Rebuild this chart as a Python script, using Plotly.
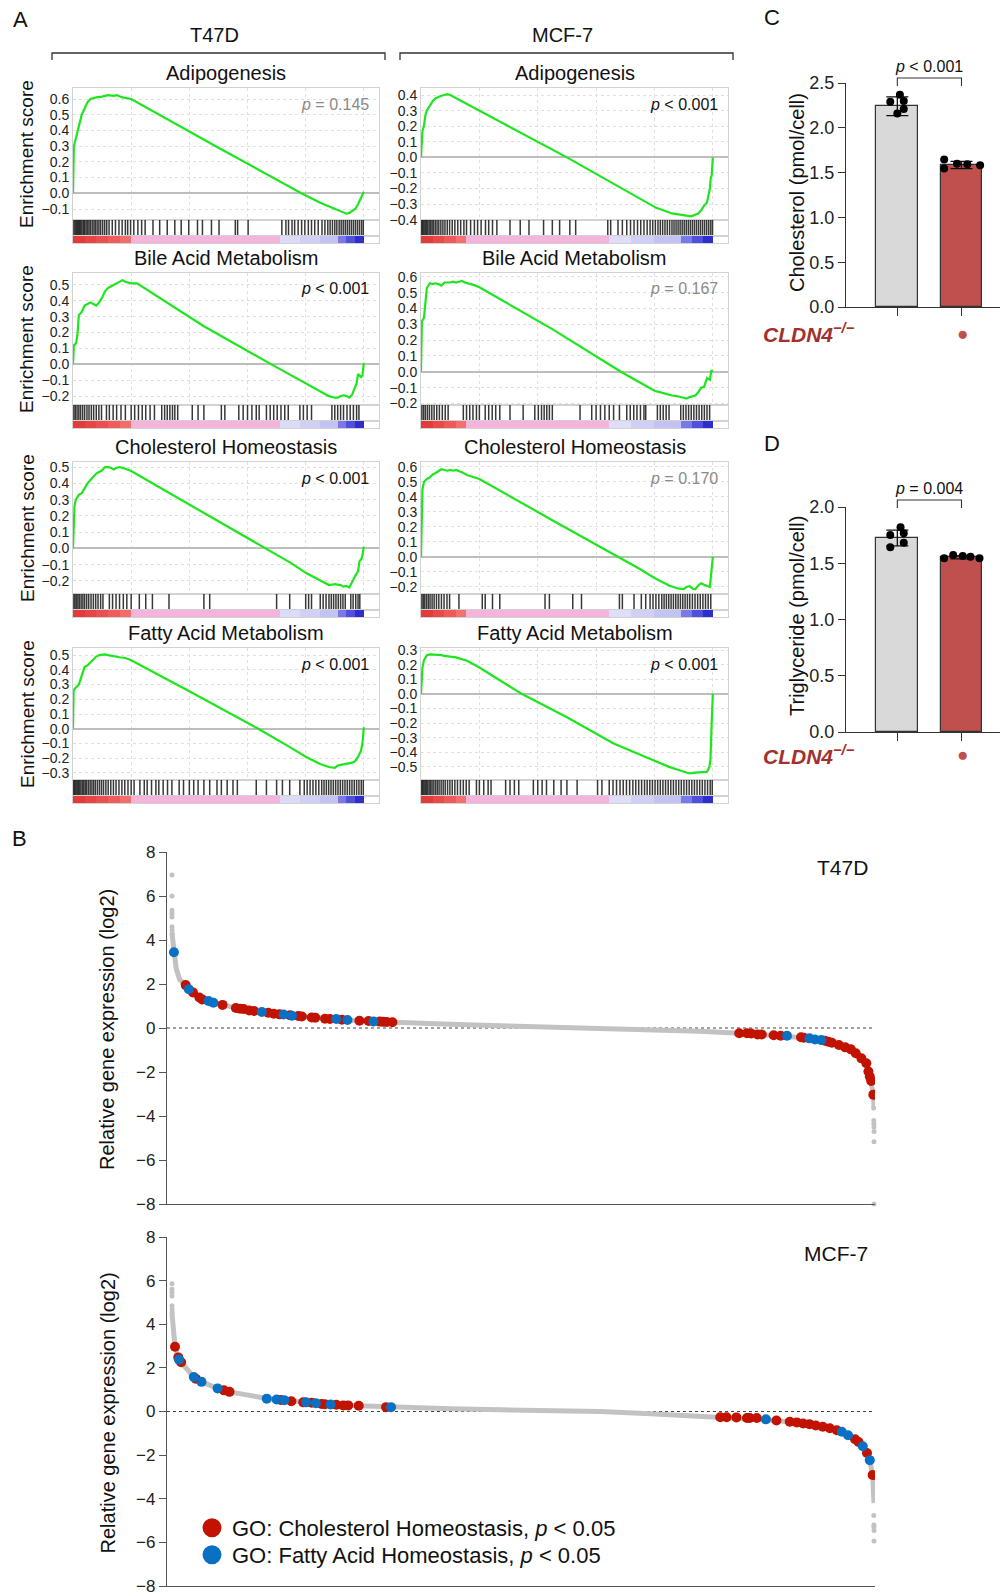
import plotly.graph_objects as go

W, H = 1002, 1596
FONT = "Liberation Sans, Arial, Helvetica, sans-serif"

# ====================== Panel A : GSEA data ======================
set_names = ["Adipogenesis", "Bile Acid Metabolism", "Cholesterol Homeostasis", "Fatty Acid Metabolism"]
cell_lines = ["T47D", "MCF-7"]
pvals_T47D = ["<i>p</i> = 0.145", "<i>p</i> &lt; 0.001", "<i>p</i> &lt; 0.001", "<i>p</i> &lt; 0.001"]
pvals_MCF7 = ["<i>p</i> &lt; 0.001", "<i>p</i> = 0.167", "<i>p</i> = 0.170", "<i>p</i> &lt; 0.001"]
sig_T47D = [False, True, True, True]
sig_MCF7 = [True, False, False, True]

# running enrichment score: x = position in ranked list (%), y = ES
T47D_adipo_x = [0, 0.3, 1, 2, 3, 4, 5, 6, 8, 10, 12, 14, 15, 17, 20, 50, 78.5, 85, 90, 93, 94, 95, 96, 97, 98, 99, 100]
T47D_adipo_y = [0, 0.30, 0.35, 0.42, 0.50, 0.54, 0.58, 0.60, 0.61, 0.615, 0.625, 0.62, 0.625, 0.61, 0.60, 0.29, 0.0,
                -0.06, -0.10, -0.125, -0.13, -0.125, -0.11, -0.10, -0.07, -0.03, 0.01]
T47D_bile_x = [0, 0.3, 1, 1.5, 2, 3, 4, 5, 6, 7, 8, 9, 10, 11, 12, 13, 14, 15, 16, 17, 18, 19, 20, 22, 45, 68.2, 75,
               80, 85, 88, 90, 91, 92, 93, 94, 95, 96, 97, 97.5, 98, 99, 99.5, 100]
T47D_bile_y = [0, 0.12, 0.13, 0.18, 0.31, 0.33, 0.37, 0.38, 0.39, 0.38, 0.37, 0.39, 0.42, 0.46, 0.48, 0.49, 0.50, 0.51,
               0.525, 0.53, 0.52, 0.515, 0.51, 0.51, 0.24, 0.0, -0.07, -0.12, -0.17, -0.20, -0.21, -0.21, -0.20, -0.195,
               -0.20, -0.21, -0.19, -0.15, -0.12, -0.06, -0.08, -0.07, 0.01]
T47D_chol_x = [0, 0.2, 0.5, 1, 2, 3, 4, 5, 6, 7, 8, 9, 10, 11, 12, 13, 14, 15, 16, 17, 18, 20, 45, 66.5, 75, 80, 85,
               88, 90, 92, 93, 94, 95, 96, 97, 98, 98.5, 99.3, 100]
T47D_chol_y = [0, 0.19, 0.26, 0.30, 0.33, 0.34, 0.37, 0.40, 0.42, 0.44, 0.46, 0.47, 0.48, 0.50, 0.50, 0.495, 0.485,
               0.495, 0.50, 0.495, 0.49, 0.475, 0.22, 0.0, -0.09, -0.15, -0.20, -0.225, -0.22, -0.225, -0.235, -0.23,
               -0.24, -0.20, -0.17, -0.14, -0.08, -0.06, 0.01]
T47D_fatty_x = [0, 0.2, 0.5, 1, 2, 3, 4, 5, 6, 7, 8, 9, 10, 11, 12, 13, 14, 15, 16, 18, 20, 40, 63.7, 75, 80, 85, 88,
                90, 91, 92, 94, 96, 97, 98, 99, 99.5, 100]
T47D_fatty_y = [0, 0.25, 0.27, 0.28, 0.30, 0.36, 0.42, 0.43, 0.45, 0.47, 0.49, 0.50, 0.505, 0.505, 0.50, 0.495, 0.49,
                0.49, 0.485, 0.48, 0.465, 0.255, 0.0, -0.13, -0.19, -0.24, -0.26, -0.265, -0.25, -0.245, -0.24, -0.23,
                -0.22, -0.19, -0.15, -0.10, 0.01]
MCF7_adipo_x = [0, 0.2, 0.5, 1, 1.5, 2, 3, 4, 5, 6, 7, 8, 9, 10, 50, 80.6, 86, 92.6, 94, 95, 96, 97, 98, 98.5, 99,
                99.3, 99.6, 100]
MCF7_adipo_y = [0, 0.10, 0.17, 0.20, 0.27, 0.30, 0.33, 0.36, 0.38, 0.39, 0.395, 0.40, 0.405, 0.40, 0.0, -0.324, -0.36,
                -0.378, -0.37, -0.36, -0.34, -0.31, -0.29, -0.25, -0.20, -0.13, -0.12, 0.0]
MCF7_bile_x = [0, 0.3, 1, 1.5, 2, 3, 4, 5, 6, 7, 8, 9, 10, 11, 12, 13, 14, 15, 16, 18, 20, 45, 68.5, 75, 80, 84, 86,
               88, 89, 90, 91, 92, 93, 94, 95, 96, 97, 97.5, 98, 99, 99.5, 100]
MCF7_bile_y = [0, 0.32, 0.34, 0.45, 0.53, 0.56, 0.555, 0.56, 0.555, 0.545, 0.565, 0.565, 0.565, 0.57, 0.565, 0.57,
               0.575, 0.565, 0.56, 0.55, 0.535, 0.27, 0.0, -0.07, -0.12, -0.14, -0.15, -0.155, -0.16, -0.165, -0.17,
               -0.16, -0.155, -0.15, -0.13, -0.10, -0.095, -0.06, -0.04, -0.05, 0.01, 0.0]
MCF7_chol_x = [0, 0.2, 0.5, 1, 2, 3, 4, 5, 6, 7, 8, 9, 10, 11, 12, 13, 14, 16, 20, 45, 67.7, 75, 80, 85, 88, 90, 91,
               92, 93, 94, 95, 96, 97, 98, 99, 99.5, 100]
MCF7_chol_y = [0, 0.30, 0.45, 0.50, 0.52, 0.53, 0.55, 0.56, 0.57, 0.585, 0.58, 0.575, 0.58, 0.575, 0.58, 0.575, 0.565,
               0.545, 0.52, 0.245, 0.0, -0.08, -0.14, -0.19, -0.21, -0.215, -0.20, -0.195, -0.21, -0.215, -0.19,
               -0.175, -0.185, -0.19, -0.20, -0.10, 0.0]
MCF7_fatty_x = [0, 0.2, 0.5, 1, 1.5, 2, 3, 4, 5, 6, 7, 8, 10, 12, 16, 20, 34.5, 50, 66, 80, 85, 88, 90, 91, 92, 94, 96,
                97, 98, 98.8, 99.2, 99.6, 100]
MCF7_fatty_y = [0, 0.10, 0.18, 0.23, 0.25, 0.265, 0.27, 0.27, 0.265, 0.27, 0.265, 0.26, 0.255, 0.25, 0.225, 0.18, 0.0,
                -0.16, -0.34, -0.46, -0.50, -0.52, -0.535, -0.54, -0.545, -0.54, -0.54, -0.54, -0.535, -0.50, -0.45,
                -0.20, 0.0]

# gene-set hit positions in the ranked list (%)
T47D_adipo_hits = [0.3, 0.7, 1.1, 1.5, 1.9, 2.3, 2.7, 3.1, 3.6, 4.0, 4.5, 5.0, 5.5, 6.0, 6.6, 7.2, 7.7, 8.3, 8.9, 9.5,
                   10.2, 10.9, 11.6, 12.4, 13.5, 14.6, 15.8, 16.9, 18.0, 18.8, 19.8, 20.9, 22.3, 23.6, 24.8, 27.5,
                   29.8, 32.4, 35.0, 37.2, 39.8, 42.8, 44.5, 47.6, 50.2, 55.8, 56.6, 60.2, 71.8, 73.2, 74.1, 75.3,
                   76.2, 77.4, 78.6, 79.7, 80.9, 82.0, 83.1, 84.3, 85.6, 86.6, 87.6, 88.4, 89.2, 90.0, 90.7, 91.5,
                   92.2, 92.9, 93.6, 94.3, 95.0, 95.7, 96.4, 97.1, 97.8, 98.5, 99.2, 99.8]
T47D_bile_hits = [0.3, 0.8, 1.4, 2.0, 2.6, 3.3, 4.0, 4.8, 5.5, 6.3, 7.1, 8.0, 8.9, 9.8, 11.5, 12.5, 13.8, 15.0, 16.5,
                  18.0, 20.0, 21.2, 22.5, 23.8, 25.0, 26.5, 28.0, 30.5, 31.5, 32.4, 33.3, 34.2, 35.0, 36.0, 41.0,
                  43.0, 45.0, 51.0, 52.2, 57.0, 58.5, 60.0, 61.5, 63.0, 64.0, 66.5, 67.8, 69.0, 70.2, 71.5, 72.8,
                  74.0, 78.0, 79.2, 80.5, 82.0, 89.0, 90.0, 91.0, 92.0, 93.0, 94.2, 95.3, 96.4, 97.5, 98.3]
T47D_chol_hits = [0.3, 0.7, 1.2, 1.7, 2.2, 2.8, 3.4, 4.0, 4.7, 5.4, 6.2, 7.0, 7.8, 8.6, 9.5, 10.3, 12.5, 13.6, 14.8,
                  16.0, 17.3, 18.5, 20.0, 22.8, 25.0, 27.3, 33.0, 45.0, 47.0, 70.0, 74.5, 80.0, 81.0, 82.0, 85.0,
                  86.0, 87.0, 88.0, 88.8, 89.6, 90.4, 91.2, 92.0, 92.8, 93.6, 95.5, 96.3, 97.2, 98.0, 98.6]
T47D_fatty_hits = [0.2, 0.6, 1.0, 1.4, 1.8, 2.2, 2.7, 3.2, 3.7, 4.2, 4.7, 5.3, 5.9, 6.5, 7.1, 7.7, 8.4, 9.1, 9.8, 10.5,
                   11.3, 12.1, 13.0, 13.9, 14.8, 15.8, 16.8, 17.8, 18.9, 20.0, 21.0, 23.0, 24.5, 25.5, 27.0, 28.5,
                   29.5, 31.0, 32.5, 34.0, 36.5, 38.0, 40.0, 41.5, 43.0, 45.0, 47.0, 49.5, 51.0, 53.0, 55.0, 56.5,
                   63.0, 66.5, 70.0, 72.0, 74.5, 78.0, 79.5, 80.5, 81.5, 82.5, 83.5, 84.5, 85.5, 86.3, 87.1, 87.9,
                   88.7, 89.5, 90.3, 91.1, 91.9, 92.7, 93.5, 94.3, 95.1, 95.9, 96.7, 97.5, 98.3, 99.1, 99.8]
MCF7_adipo_hits = [0.2, 0.6, 1.0, 1.4, 1.8, 2.3, 2.8, 3.3, 3.8, 4.3, 4.9, 5.5, 6.1, 6.8, 7.5, 8.2, 9.0, 9.8, 10.7,
                   11.6, 12.6, 13.6, 14.7, 15.6, 17.0, 18.3, 19.4, 20.6, 22.1, 23.2, 24.5, 26.0, 30.5, 34.0, 37.0,
                   42.0, 45.0, 47.5, 51.0, 53.0, 64.0, 65.0, 67.5, 69.0, 70.5, 71.8, 73.0, 74.2, 75.3, 76.4, 77.5,
                   78.5, 79.4, 80.3, 81.2, 82.0, 82.8, 83.6, 84.4, 85.2, 86.0, 86.7, 87.4, 88.1, 88.8, 89.5, 90.2,
                   90.9, 91.6, 92.3, 93.0, 93.7, 94.4, 95.1, 95.8, 96.5, 97.2, 97.9, 98.6, 99.3, 99.9]
MCF7_bile_hits = [0.3, 0.9, 1.5, 2.2, 2.9, 3.7, 4.5, 5.4, 6.3, 7.3, 8.3, 9.3, 14.5, 15.6, 16.7, 17.8, 19.0, 20.0,
                  22.0, 23.2, 24.4, 25.6, 27.0, 30.5, 35.0, 39.0, 40.2, 41.3, 42.2, 43.1, 44.0, 45.0, 54.5, 58.5,
                  60.0, 61.5, 63.0, 64.5, 66.0, 68.0, 70.5, 71.7, 72.9, 74.0, 75.2, 76.4, 77.0, 81.0, 82.0, 83.0,
                  84.0, 85.0, 89.0, 89.9, 90.8, 91.7, 92.6, 93.5, 94.4, 95.3, 96.2, 97.1, 98.0, 98.9]
MCF7_chol_hits = [0.3, 0.8, 1.3, 1.9, 2.5, 3.1, 3.8, 4.5, 5.3, 6.1, 7.0, 7.9, 8.9, 9.8, 13.0, 21.0, 22.0, 24.5, 27.0,
                  42.5, 44.0, 52.0, 55.0, 68.0, 69.0, 73.0, 75.5, 77.0, 78.5, 79.5, 80.5, 81.5, 82.5, 83.3, 84.1,
                  84.9, 85.7, 86.5, 87.3, 88.1, 88.9, 89.7, 90.5, 91.3, 92.1, 93.0, 93.9, 94.8, 95.7, 96.6, 97.5,
                  98.4, 99.3]
MCF7_fatty_hits = [0.2, 0.6, 1.0, 1.4, 1.8, 2.3, 2.8, 3.3, 3.8, 4.4, 5.0, 5.6, 6.2, 6.9, 7.6, 8.3, 9.1, 9.9, 10.7,
                   11.6, 12.5, 13.5, 14.5, 15.5, 16.5, 19.0, 20.0, 21.5, 23.0, 24.0, 29.0, 30.5, 32.0, 33.5, 38.5,
                   40.0, 41.5, 43.0, 45.5, 48.0, 50.0, 53.5, 60.5, 62.0, 64.5, 65.8, 67.0, 68.2, 69.3, 70.4, 71.5,
                   72.6, 73.6, 74.6, 75.6, 76.6, 77.5, 78.4, 79.3, 80.2, 81.1, 82.0, 82.9, 83.8, 84.7, 85.6, 86.5,
                   87.4, 88.3, 89.2, 90.1, 91.0, 91.9, 92.8, 93.7, 94.6, 95.5, 96.4, 97.3, 98.2, 99.1, 99.8]

# ranked-metric colour strip (segment edges in % and colours)
T47D_strip_edges = [0, 4, 8, 12, 16, 20, 71, 78, 85, 91, 94, 97, 100]
T47D_strip_colors = ["#e23b3b", "#e64545", "#ea5050", "#ee5c5c", "#f26c6c", "#f6b4dc", "#dcdcf9", "#d0d0f6",
                     "#c2c2f3", "#7a7ae6", "#5050dc", "#2e2ecc"]
MCF7_strip_edges = [0, 4, 8, 12, 15.5, 64.5, 72, 80, 89, 93, 96.5, 100]
MCF7_strip_colors = ["#e23b3b", "#e84a4a", "#ee5a5a", "#f27070", "#f6b4dc", "#dedefa", "#d0d0f6", "#c2c2f3",
                     "#7a7ae6", "#5050dc", "#2e2ecc"]

# ====================== Panel B data (rank %, log2 expression) ======================
T47D_curve_x = [0.0, 0.14, 0.28, 0.6, 1.1, 1.95, 3.0, 4.3, 5.9, 7.2, 9.4, 11.7, 14.5, 18.0, 21.8, 25.0, 28.7, 31.4,
                39.6, 46.7, 53.8, 61.0, 68.1, 75.2, 80.8, 84.0, 87.6, 90.0, 92.5, 94.0, 95.9, 97.4, 98.9, 99.4,
                99.9, 100.0]
T47D_curve_y = [4.3, 3.8, 3.4, 2.7, 2.2, 1.95, 1.62, 1.32, 1.15, 1.05, 0.9, 0.77, 0.65, 0.54, 0.43, 0.36, 0.30, 0.26,
                0.17, 0.10, 0.05, 0.0, -0.08, -0.15, -0.24, -0.29, -0.35, -0.44, -0.55, -0.67, -0.88, -1.15, -1.6,
                -2.2, -3.0, -3.6]
T47D_tail_x = [0, 0, 0, 0, 0, 0, 0.02, 0.04, 99.95, 99.97, 99.98, 99.99, 100, 100, 100]
T47D_tail_y = [6.95, 6.0, 5.35, 5.2, 5.05, 4.6, 4.45, 4.3, -3.64, -4.2, -4.35, -4.5, -4.7, -5.17, -8.0]
T47D_chol_gx = [1.95, 3.0, 3.9, 4.3, 7.2, 9.1, 9.7, 10.2, 11.0, 11.7, 13.7, 14.5, 15.3, 16.8, 18.0, 18.5, 19.9,
                20.4, 21.8, 22.5, 24.2, 26.7, 28.0, 29.6, 30.1, 30.6, 31.4, 80.8, 81.9, 82.5, 83.4, 84.0, 85.7,
                86.7, 89.6, 90.0, 93.0, 93.5, 94.0, 95.0, 95.9, 96.7, 97.4, 98.2, 98.9, 99.2, 99.4, 99.6, 99.9]
T47D_chol_gy = [1.95, 1.61, 1.39, 1.30, 1.05, 0.91, 0.88, 0.86, 0.80, 0.77, 0.69, 0.65, 0.62, 0.58, 0.55, 0.52, 0.48,
                0.47, 0.42, 0.41, 0.38, 0.33, 0.32, 0.29, 0.28, 0.27, 0.26, -0.24, -0.24, -0.25, -0.29, -0.29, -0.33,
                -0.35, -0.42, -0.44, -0.58, -0.62, -0.67, -0.77, -0.88, -0.97, -1.15, -1.38, -1.6, -1.98, -2.21,
                -2.41, -3.03]
T47D_fatty_gx = [0.28, 2.4, 5.2, 5.9, 12.8, 15.9, 17.1, 23.4, 25.0, 28.7, 87.6, 90.8, 91.6, 92.5]
T47D_fatty_gy = [3.44, 1.76, 1.23, 1.15, 0.73, 0.61, 0.56, 0.41, 0.36, 0.30, -0.35, -0.47, -0.52, -0.55]

MCF7_curve_x = [0.0, 0.14, 0.28, 0.43, 0.9, 1.3, 3.1, 4.2, 6.5, 8.2, 13.5, 16.0, 19.9, 22.6, 26.6, 31.0, 39.6, 46.7,
                61.0, 68.1, 78.1, 82.3, 86.1, 89.9, 92.7, 94.7, 96.3, 97.8, 99.0, 99.4, 99.8, 100.0]
MCF7_curve_y = [4.5, 4.0, 3.4, 2.97, 2.48, 2.26, 1.58, 1.36, 1.06, 0.9, 0.6, 0.52, 0.4, 0.32, 0.26, 0.2, 0.13, 0.08,
                0.0, -0.1, -0.26, -0.3, -0.41, -0.55, -0.7, -0.86, -1.09, -1.4, -1.9, -2.23, -2.91, -4.2]
MCF7_tail_x = [0, 0, 0, 0, 0, 0.02, 0.03, 99.97, 99.98, 99.99, 100, 100]
MCF7_tail_y = [5.86, 5.6, 5.45, 5.3, 4.85, 4.7, 4.55, -4.77, -5.2, -5.3, -5.45, -5.94]
MCF7_chol_gx = [0.43, 0.9, 1.3, 3.4, 7.4, 8.2, 15.5, 17.0, 18.7, 19.9, 21.3, 21.8, 23.4, 24.4, 25.1, 26.6, 30.5,
                78.1, 79.0, 80.4, 81.9, 82.3, 83.3, 86.1, 88.0, 89.0, 89.9, 90.8, 91.7, 92.7, 93.7, 94.7, 97.3,
                97.8, 99.0, 99.8]
MCF7_chol_gy = [2.97, 2.48, 2.26, 1.5, 0.97, 0.9, 0.53, 0.47, 0.42, 0.40, 0.34, 0.33, 0.31, 0.28, 0.28, 0.26, 0.2,
                -0.26, -0.26, -0.27, -0.3, -0.3, -0.3, -0.41, -0.47, -0.5, -0.55, -0.58, -0.64, -0.7, -0.77, -0.86,
                -1.27, -1.4, -1.9, -2.91]
MCF7_fatty_gx = [1.0, 3.1, 4.2, 6.5, 13.5, 14.9, 16.0, 19.1, 20.5, 22.6, 31.2, 84.6, 95.4, 96.3, 98.4, 99.4]
MCF7_fatty_gy = [2.38, 1.58, 1.36, 1.06, 0.59, 0.55, 0.52, 0.42, 0.38, 0.32, 0.2, -0.36, -0.93, -1.09, -1.59, -2.23]

legend_names = ["GO: Cholesterol Homeostasis, <i>p</i> &lt; 0.05", "GO: Fatty Acid Homeostasis, <i>p</i> &lt; 0.05"]

# ====================== Panels C / D data ======================
chol_means = [2.24, 1.585]
chol_sd = [0.105, 0.04]
chol_ctrl = [2.37, 2.29, 2.30, 2.21, 2.16]
chol_ctrl_jit = [0.04, -0.11, 0.10, 0.10, 0.0]
chol_ko = [1.645, 1.545, 1.60, 1.592, 1.581]
chol_ko_jit = [-0.27, -0.27, -0.07, 0.09, 0.29]
tg_means = [1.724, 1.553]
tg_sd = [0.07, 0.015]
tg_ctrl = [1.82, 1.751, 1.766, 1.642, 1.683]
tg_ctrl_jit = [0.05, -0.11, 0.10, -0.11, 0.10]
tg_ko = [1.544, 1.573, 1.564, 1.558, 1.544]
tg_ko_jit = [-0.27, -0.13, 0.02, 0.14, 0.28]

GREEN = "#1ee61e"
RED = "#c21200"
BLUE = "#0a70c4"
GREYPT = "#c2c2c2"
BAR_GREY = "#d9d9d9"
BAR_RED = "#c0504d"
KO_RED = "#a3302d"

fig = go.Figure()
layout = {}
anns = []
shapes = []
count = [0]


def fx(px):
    return px / W


def fy(py):
    return 1 - py / H


def new_axes(xpx, ypx, xkw, ykw):
    count[0] += 1
    i = count[0]
    sfx = "" if i == 1 else str(i)
    xr, yr = "x" + sfx, "y" + sfx
    layout["xaxis" + sfx] = dict(domain=[fx(xpx[0]), fx(xpx[1])], anchor=yr, automargin=False, **xkw)
    layout["yaxis" + sfx] = dict(domain=[fy(ypx[1]), fy(ypx[0])], anchor=xr, automargin=False, **ykw)
    return xr, yr


def ann(text, px, py, size, color="#111", xanchor="center", yanchor="middle", angle=0):
    anns.append(dict(text=text, x=fx(px), y=fy(py), xref="paper", yref="paper", showarrow=False,
                     font=dict(size=size, color=color, family=FONT), xanchor=xanchor, yanchor=yanchor,
                     textangle=angle))


# ---------------- Panel A ----------------
es_x = [[T47D_adipo_x, T47D_bile_x, T47D_chol_x, T47D_fatty_x],
        [MCF7_adipo_x, MCF7_bile_x, MCF7_chol_x, MCF7_fatty_x]]
es_y = [[T47D_adipo_y, T47D_bile_y, T47D_chol_y, T47D_fatty_y],
        [MCF7_adipo_y, MCF7_bile_y, MCF7_chol_y, MCF7_fatty_y]]
hits = [[T47D_adipo_hits, T47D_bile_hits, T47D_chol_hits, T47D_fatty_hits],
        [MCF7_adipo_hits, MCF7_bile_hits, MCF7_chol_hits, MCF7_fatty_hits]]
pv = [pvals_T47D, pvals_MCF7]
sg = [sig_T47D, sig_MCF7]
strip_e = [T47D_strip_edges, MCF7_strip_edges]
strip_c = [T47D_strip_colors, MCF7_strip_colors]
yranges = [[[-0.17, 0.67], [-0.256, 0.575], [-0.28, 0.531], [-0.348, 0.548]],
           [[-0.402, 0.445], [-0.21, 0.625], [-0.247, 0.633], [-0.59, 0.314]]]
col_px = [(73, 379), (421, 728)]
row_top = [88, 273, 462, 648]
XR = [0, 105.2]
frame = dict(showline=True, mirror=True, linecolor="#d2d2d2", linewidth=1)
noax = dict(showgrid=False, showticklabels=False, ticks="", zeroline=False)

for c in range(2):
    x0, x1 = col_px[c]
    for r in range(4):
        top = row_top[r]
        xr, yr = new_axes((x0, x1), (top, top + 132),
                          dict(range=XR, showgrid=True, gridcolor="#e0e0e0", griddash="dot", tick0=0, dtick=20,
                               showticklabels=False, ticks="", zeroline=False, **frame),
                          dict(range=yranges[c][r], tick0=0, dtick=0.1, tickformat=".1f", showgrid=True,
                               gridcolor="#e0e0e0", griddash="dot", zeroline=True, zerolinecolor="#bdbdbd",
                               zerolinewidth=1.5, ticks="", tickfont=dict(size=14, color="#222", family=FONT),
                               **frame))
        fig.add_trace(go.Scatter(x=es_x[c][r], y=es_y[c][r], mode="lines", line=dict(color=GREEN, width=2.2),
                                 xaxis=xr, yaxis=yr, showlegend=False, hoverinfo="skip"))
        # barcode
        xb, yb = new_axes((x0, x1), (top + 132, top + 148), dict(range=XR, **noax, **frame),
                          dict(range=[0, 1], **noax, **frame))
        bx, by = [], []
        for h in hits[c][r]:
            bx += [h, h, None]
            by += [0, 1, None]
        fig.add_trace(go.Scatter(x=bx, y=by, mode="lines", line=dict(color="rgba(0,0,0,0.78)", width=1.5),
                                 xaxis=xb, yaxis=yb, showlegend=False, hoverinfo="skip"))
        # colour strip
        xs_, ys_ = new_axes((x0, x1), (top + 148, top + 155), dict(range=XR, **noax, **frame),
                            dict(range=[0, 1], **noax, **frame))
        e = strip_e[c]
        mids = [(a + b) / 2 for a, b in zip(e[:-1], e[1:])]
        wid = [b - a for a, b in zip(e[:-1], e[1:])]
        fig.add_trace(go.Bar(x=mids, y=[1] * len(mids), width=wid, marker=dict(color=strip_c[c], line=dict(width=0)),
                             xaxis=xs_, yaxis=ys_, showlegend=False, hoverinfo="skip"))
        # texts
        ann(set_names[r], (x0 + x1) / 2, top - 15, 20)
        ann(pv[c][r], x1 - 8, top + 16, 16, color="#111" if sg[c][r] else "#8a8a8a", xanchor="right")
        if c == 0:
            ann("Enrichment score", 27, top + 66, 19, angle=-90)

# headers and brackets
for name, (bx0, bx1) in zip(cell_lines, [(52, 385), (400, 733)]):
    ann(name, (bx0 + bx1) / 2 - 4, 35, 20)
    shapes.append(dict(type="path", xref="paper", yref="paper",
                       path=f"M {fx(bx0)},{fy(60)} L {fx(bx0)},{fy(53)} L {fx(bx1)},{fy(53)} L {fx(bx1)},{fy(60)}",
                       line=dict(color="#333", width=1.3)))

# ---------------- Panel B ----------------
B_rows = [
    ((852, 1204), T47D_curve_x, T47D_curve_y, T47D_tail_x, T47D_tail_y, T47D_chol_gx, T47D_chol_gy,
     T47D_fatty_gx, T47D_fatty_gy, "T47D", 867),
    ((1237, 1586), MCF7_curve_x, MCF7_curve_y, MCF7_tail_x, MCF7_tail_y, MCF7_chol_gx, MCF7_chol_gy,
     MCF7_fatty_gx, MCF7_fatty_gy, "MCF-7", 1253),
]
legend_keys = ["legend", "legend2"]
legend_tops = [1507, 1534]
for k, (ypx, gx, gy, tx, ty, rx, ry, bx_, by_, label, lpy) in enumerate(B_rows):
    xr, yr = new_axes((167, 875), ypx,
                      dict(range=[-0.71, 100.14], showline=True, linecolor="#555", linewidth=1.2, showgrid=False,
                           zeroline=False, showticklabels=False, ticks=""),
                      dict(range=[-8, 8], dtick=2, tick0=0, ticks="outside", ticklen=7, tickwidth=1.2,
                           tickcolor="#555", showline=True, linecolor="#555", linewidth=1.2, showgrid=False,
                           zeroline=False, ticklabeloverflow="allow",
                           tickfont=dict(size=17, color="#222", family=FONT)))
    shapes.append(dict(type="line", xref=f"{xr} domain", yref=yr, x0=0, x1=0.996, y0=0, y1=0,
                       line=dict(color="#444", width=1, dash="dot"), layer="below"))
    fig.add_trace(go.Scatter(x=gx, y=gy, mode="lines", line=dict(color=GREYPT, width=5), xaxis=xr, yaxis=yr,
                             showlegend=False, hoverinfo="skip"))
    fig.add_trace(go.Scatter(x=tx, y=ty, mode="markers", marker=dict(color=GREYPT, size=5), xaxis=xr, yaxis=yr,
                             showlegend=False, hoverinfo="skip", cliponaxis=False))
    fig.add_trace(go.Scatter(x=rx, y=ry, mode="markers", marker=dict(color=RED, size=10), xaxis=xr, yaxis=yr,
                             showlegend=False, hoverinfo="skip"))
    fig.add_trace(go.Scatter(x=bx_, y=by_, mode="markers", marker=dict(color=BLUE, size=10), xaxis=xr, yaxis=yr,
                             showlegend=False, hoverinfo="skip"))
    ann(label, 870, lpy, 21, xanchor="right")
    ann("Relative gene expression (log2)", 107, (ypx[0] + ypx[1]) / 2 + 2, 20, angle=-90)
    if k == 1:
        for nm, col, lk in zip(legend_names, [RED, BLUE], legend_keys):
            fig.add_trace(go.Scatter(x=[None], y=[None], mode="markers",
                                     marker=dict(color=col, size=16, line=dict(color=col, width=3)),
                                     name=nm, xaxis=xr, yaxis=yr, showlegend=True, legend=lk))

# ---------------- Panels C & D ----------------
CD = [
    ((83, 307), [0, 2.5], chol_means, chol_sd, chol_ctrl, chol_ctrl_jit, chol_ko, chol_ko_jit,
     "Cholesterol (pmol/cell)", "<i>p</i> &lt; 0.001", 67, 78, 86, 333, 193),
    ((507, 732), [0, 2.0], tg_means, tg_sd, tg_ctrl, tg_ctrl_jit, tg_ko, tg_ko_jit,
     "Triglyceride (pmol/cell)", "<i>p</i> = 0.004", 488, 500, 508, 755, 616),
]
for (ypx, yrg, means, sds, cv, cj, kv, kj, ytitle, ptxt, ppy, bry0, bry1, kopy, typ) in CD:
    xr, yr = new_axes((846, 1000), ypx,
                      dict(range=[-0.8, 1.6], tickvals=[0, 1], showticklabels=False, ticks="outside", ticklen=8,
                           tickwidth=1.2, tickcolor="#333", showline=True, linecolor="#333", linewidth=1.2,
                           showgrid=False, zeroline=False),
                      dict(range=yrg, dtick=0.5, tick0=0, tickformat=".1f", ticks="outside", ticklen=7,
                           tickwidth=1.2, tickcolor="#333", showline=True, linecolor="#333", linewidth=1.2,
                           showgrid=False, zeroline=False, tickfont=dict(size=18, color="#222", family=FONT)))
    fig.add_trace(go.Bar(x=[0, 1], y=means, width=0.65,
                         marker=dict(color=[BAR_GREY, BAR_RED], line=dict(color="#333", width=1.2)),
                         error_y=dict(type="data", array=sds, visible=True, color="#111", thickness=1.3, width=11),
                         xaxis=xr, yaxis=yr, showlegend=False, hoverinfo="skip"))
    fig.add_trace(go.Scatter(x=[0 + j for j in cj] + [1 + j for j in kj], y=cv + kv, mode="markers",
                             marker=dict(color="#000", size=8), xaxis=xr, yaxis=yr, showlegend=False,
                             hoverinfo="skip", cliponaxis=False))
    shapes.append(dict(type="path", xref=xr, yref="paper",
                       path=f"M 0,{fy(bry1)} L 0,{fy(bry0)} L 1,{fy(bry0)} L 1,{fy(bry1)}",
                       line=dict(color="#333", width=1.1)))
    ann(ptxt, 929, ppy, 16)
    ann(ytitle, 797, typ, 20, angle=-90)
    ann("<b><i>CLDN4</i></b><sup><b><i>\u2212/\u2212</i></b></sup>", 857, kopy, 21, color=KO_RED, xanchor="right")
    ann("\u25cf", 962, kopy, 19, color=BAR_RED)

# panel letters
for letter, px, py in [("A", 20, 20), ("B", 19, 838), ("C", 772, 18), ("D", 772, 443)]:
    ann(letter, px, py, 22)

leg_common = dict(xanchor="left", yanchor="top", font=dict(size=22, color="#111", family=FONT),
                  bgcolor="rgba(0,0,0,0)", itemsizing="trace", tracegroupgap=0)
fig.update_layout(
    template="none",
    width=W, height=H, margin=dict(l=0, r=0, t=0, b=0, pad=0, autoexpand=False),
    paper_bgcolor="white", plot_bgcolor="white",
    font=dict(family=FONT, color="#111"),
    annotations=anns, shapes=shapes, showlegend=True,
    legend=dict(x=fx(192), y=fy(legend_tops[0]), **leg_common),
    legend2=dict(x=fx(192), y=fy(legend_tops[1]), **leg_common),
    bargap=0,
    **layout,
)
fig.write_html(
    "out.html",
    config={"displayModeBar": False},
    post_script=("var gd=document.getElementById('{plot_id}');"
                 "gd.style.position='fixed';gd.style.top='0px';gd.style.left='0px';"
                 "document.body.style.margin='0px';document.body.style.padding='0px';"
                 "document.documentElement.style.overflow='hidden';"),
)
